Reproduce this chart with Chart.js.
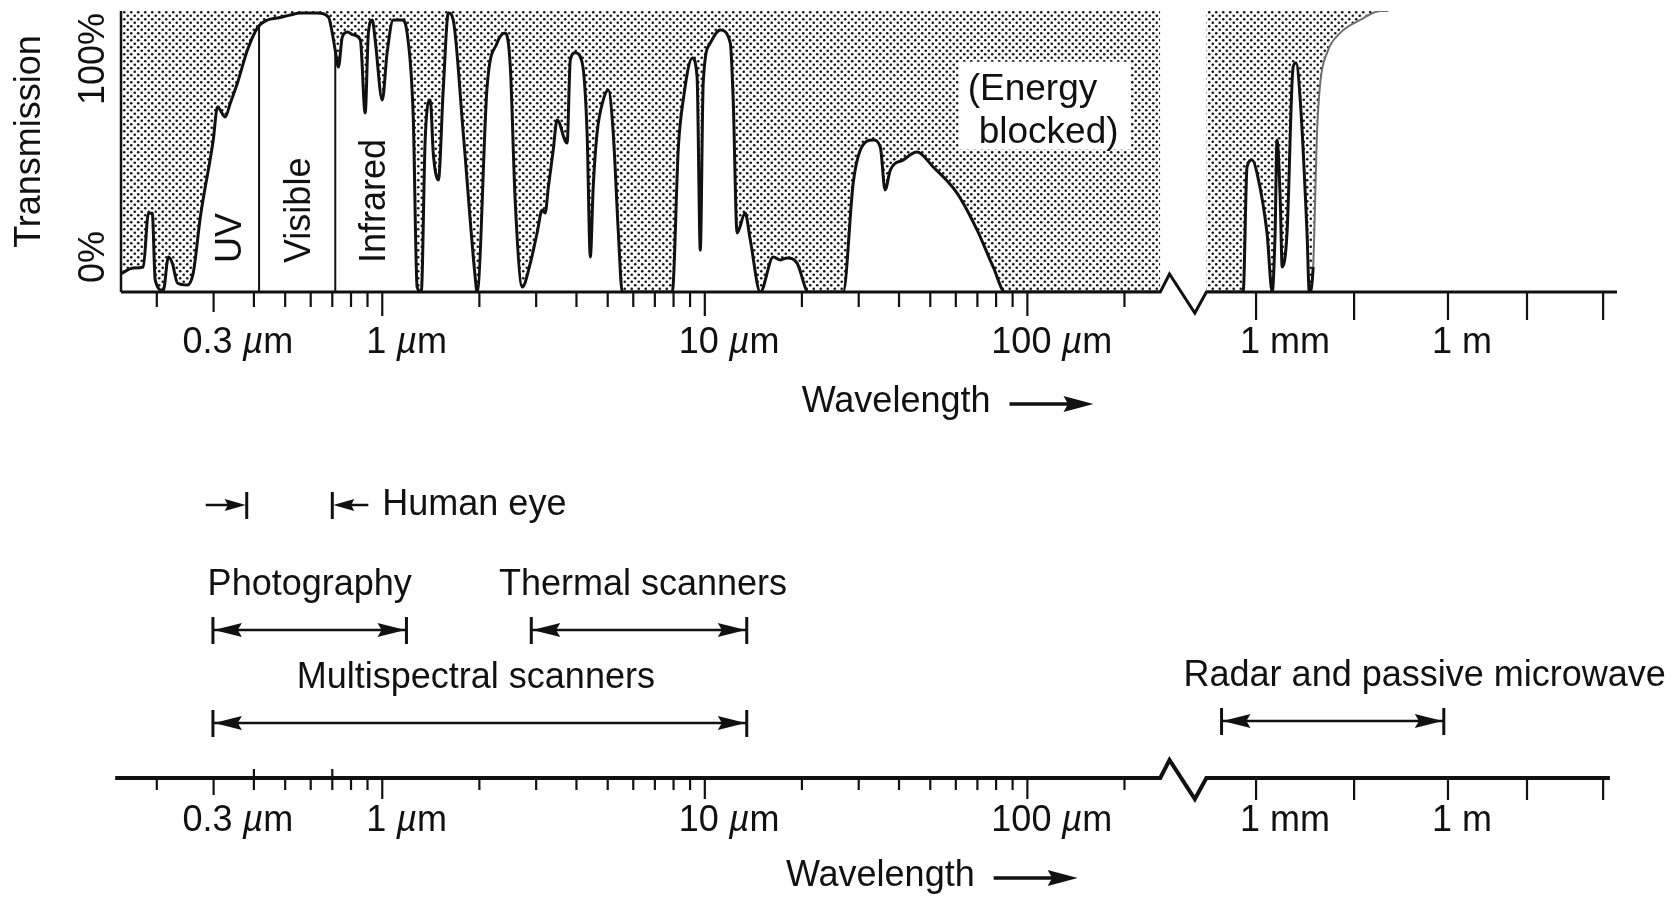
<!DOCTYPE html>
<html>
<head>
<meta charset="utf-8">
<script src="https://cdn.jsdelivr.net/npm/chart.js@4.4.1/dist/chart.umd.min.js"></script>
<style>
  html, body { margin: 0; padding: 0; background: #fff; }
  #wrap { position: relative; width: 1680px; height: 898px; overflow: hidden; }
  canvas { position: absolute; left: 0; }
  #top { top: 0; }
  #bottom { top: 440px; }
</style>
</head>
<body>
<div id="wrap">
  <canvas id="top" width="1680" height="440"></canvas>
  <canvas id="bottom" width="1680" height="458"></canvas>
</div>
<script>
// x values are decades: log10(wavelength / µm). Past the axis break the
// figure compresses the scale, so 1 mm and 1 m sit close together.
const xMin = -0.81, xMax = 3.828
const breakFrom = 2.412, breakTo = 2.555

// atmospheric transmission (%) left of the break
const windowPos = [
  -0.810, -0.772, -0.741, -0.725, -0.713, -0.704, -0.679, -0.663, -0.651, -0.635,
  -0.604, -0.586, -0.564, -0.524, -0.511, -0.487, -0.471, -0.449, -0.418, -0.387,
  -0.356, -0.325, -0.285, -0.254, -0.201, -0.167, -0.155, -0.146, -0.136, -0.124,
  -0.108, -0.090, -0.068, -0.053, -0.043, -0.031, -0.022, 0.000, 0.015, 0.034,
  0.062, 0.077, 0.096, 0.108, 0.121, 0.133, 0.149, 0.158, 0.174, 0.189,
  0.205, 0.220, 0.251, 0.288, 0.294, 0.325, 0.356, 0.381, 0.397, 0.412,
  0.434, 0.459, 0.480, 0.496, 0.505, 0.515, 0.530, 0.542, 0.573, 0.583,
  0.598, 0.620, 0.635, 0.645, 0.654, 0.666, 0.685, 0.701, 0.716, 0.732,
  0.744, 0.899, 0.918, 0.933, 0.961, 0.976, 0.986, 0.995, 1.017, 1.048,
  1.079, 1.088, 1.100, 1.125, 1.141, 1.172, 1.212, 1.234, 1.255, 1.286,
  1.321, 1.429, 1.460, 1.482, 1.522, 1.544, 1.559, 1.575, 1.615, 1.658,
  1.708, 1.782, 1.844, 1.894, 1.931, 2.412
]
const windowT = [
  6.5, 8.5, 8.9, 28, 28, 4.3, 0.5, 12.5, 10.3, 3.2,
  2.5, 6.8, 26.7, 54.1, 65.8, 62.3, 67.3, 74.4, 86.1, 94,
  96.8, 97.5, 98.6, 99.3, 99.3, 97.9, 92.2, 86.1, 80.1, 90.7,
  92.5, 91.5, 89.7, 63.7, 92.2, 96.8, 89.7, 68.3, 85.1, 96.8,
  96.8, 92.2, 62.3, 1.8, 0, 54.1, 68.3, 49.5, 39.9, 71.9,
  99.3, 96.8, 56.6, 5.3, 0, 73, 88.6, 92.2, 80.1, 32.7,
  1.8, 10.3, 21, 29.2, 28.1, 37.4, 50.5, 61.2, 53, 82.6,
  85.1, 81.5, 56.6, 12.5, 37.4, 56.6, 68.3, 71.9, 56.6, 21,
  0, 0, 51.6, 68.3, 83.3, 76.5, 14.9, 74.4, 88.6, 93.2,
  88.6, 68.3, 21, 28.1, 18.5, 0, 12.5, 11.4, 12.1, 10.3,
  0, 0, 38.8, 50.5, 54.1, 51.6, 36.3, 43.4, 47, 49.8,
  44.5, 35.2, 22.1, 8.9, 0, 0
]

// transmission right of the break (millimetre waves)
const mmPos = [
  2.555, 2.669, 2.681, 2.697, 2.712, 2.743, 2.759, 2.768, 2.774, 2.784,
  2.790, 2.805, 2.824, 2.833, 2.846, 2.867, 2.874, 2.886, 2.898, 2.908,
  2.929, 2.970, 3.032, 3.094, 3.119
]
const mmT = [
  0, 0, 44.5, 47, 42.3, 21, 0, 21, 54.1, 32.7,
  8.9, 21, 80.1, 81.5, 68.3, 21, 0, 8.9, 56.6, 74.4,
  85.1, 92.2, 96.8, 100, 100
]

// axis ticks
const minorWaves = [0.2, 0.3, 0.4, 0.5, 0.6, 0.7, 0.8, 0.9, 2, 3, 4, 5, 6, 7, 8, 9,
  20, 30, 40, 50, 60, 70, 80, 90, 200]              // µm
const decadeWaves = [1, 10, 100]                    // µm
const crossWaves = [0.4, 0.7]                       // ticks that also rise above the lower axis
const mmTickPos = [2.709, 3.013, 3.304, 3.549, 3.785]
const tickLabelPos = [-0.523, 0, 1, 2, 2.709, 3.304]
const tickLabelNum = ['0.3', '1', '10', '100', '1', '1']
const tickLabelUnit = ['µm', 'µm', 'µm', 'µm', 'mm', 'm']

// spectral bands in the top panel
const bandEdgeWaves = [0.415, 0.715]                // µm
const bandNames = ['UV', 'Visible', 'Infrared']
const bandNameWaves = [0.34, 0.557, 0.95]           // µm

// sensor ranges in the lower panel
const rangeNames = ['Photography', 'Thermal scanners', 'Multispectral scanners', 'Radar and passive microwave']
const rangeFrom = [-0.525, 0.462, -0.525, 2.602]
const rangeTo = [0.075, 1.130, 1.130, 3.291]
const rangeRow = [2.96, 2.96, 1.1, 1.14]
const eyeFrom = Math.log10(0.38), eyeTo = Math.log10(0.7), eyeRow = 5.46

const FONT = '"Liberation Sans", Arial, sans-serif'
const INK = '#111'
const rangeLabelDx = [0, 4, -4, 92]

const toPts = (xs, ys) => xs.map((x, i) => ({ x, y: ys[i] }))

function stipple(ctx) {
  const c = document.createElement('canvas')
  c.width = 7; c.height = 7
  const g = c.getContext('2d')
  g.fillStyle = '#141414'
  for (const [x, y] of [[1.75, 1.75], [5.25, 5.25]]) {
    g.beginPath(); g.arc(x, y, 1.3, 0, Math.PI * 2); g.fill()
  }
  return ctx.createPattern(c, 'repeat')
}

function curveAt(p) {
  for (let i = 1; i < windowPos.length; i++) {
    if (windowPos[i] >= p) {
      const t = (p - windowPos[i - 1]) / (windowPos[i] - windowPos[i - 1])
      return windowT[i - 1] + t * (windowT[i] - windowT[i - 1])
    }
  }
  return 0
}

function seg(ctx, x1, y1, x2, y2, w) {
  ctx.lineWidth = w
  ctx.beginPath(); ctx.moveTo(x1, y1); ctx.lineTo(x2, y2); ctx.stroke()
}

function head(ctx, tipX, y, dir, len, half) {
  ctx.beginPath()
  ctx.moveTo(tipX, y)
  ctx.lineTo(tipX - dir * len, y - half)
  ctx.lineTo(tipX - dir * len * 0.85, y)
  ctx.lineTo(tipX - dir * len, y + half)
  ctx.closePath(); ctx.fill()
}

// number upright, µ in italics, like the printed figure
function unitLabel(ctx, x, y, num, unit) {
  ctx.font = `36px ${FONT}`
  ctx.textAlign = 'left'; ctx.textBaseline = 'middle'
  const numW = ctx.measureText(num).width
  let cur = x - numW / 2 - 6
  ctx.fillText(num, cur, y)
  cur += numW + ctx.measureText(' ').width
  if (unit[0] === 'µ') {
    ctx.font = `italic 36px ${FONT}`
    ctx.fillText('µ', cur, y)
    cur += ctx.measureText('µ').width
    ctx.font = `36px ${FONT}`
    ctx.fillText(unit.slice(1), cur, y)
  } else {
    ctx.fillText(unit, cur, y)
  }
}

function waveAxis(ctx, x, yA, st) {
  const px = v => x.getPixelForValue(v)
  const b0 = px(breakFrom), b1 = px(breakTo), bw = b1 - b0
  ctx.strokeStyle = INK; ctx.fillStyle = INK
  ctx.lineJoin = 'miter'; ctx.lineCap = 'butt'
  ctx.lineWidth = st.lineWidth
  ctx.beginPath()
  ctx.moveTo(px(st.startPos), yA)
  ctx.lineTo(b0, yA)
  ctx.lineTo(b0 + bw * 0.2, yA - 18)
  ctx.lineTo(b0 + bw * 0.75, yA + 21)
  ctx.lineTo(b1, yA)
  ctx.lineTo(px(st.endPos), yA)
  ctx.stroke()

  const tick = (v, len, up) => seg(ctx, px(v), yA - (up || 0), px(v), yA + len, 2.2)
  minorWaves.forEach(w => tick(Math.log10(w), w === 0.3 ? st.midLen : st.minorLen,
    st.cross && crossWaves.includes(w) ? 9 : 0))
  decadeWaves.forEach(w => tick(Math.log10(w), st.majorLen))
  mmTickPos.forEach(p => tick(p, st.mmLen))

  tickLabelPos.forEach((p, i) => unitLabel(ctx, px(p), yA + st.labelDy, tickLabelNum[i], tickLabelUnit[i]))

  ctx.font = `36px ${FONT}`
  ctx.textAlign = 'center'; ctx.textBaseline = 'middle'
  const tx = px(st.titlePos), ty = yA + st.titleDy
  ctx.fillText('Wavelength', tx, ty)
  const ax = tx + ctx.measureText('Wavelength').width / 2 + 19
  seg(ctx, ax, ty + 2, ax + 66, ty + 2, 3.5)
  head(ctx, ax + 84, ty + 2, 1, 30, 8)
}

const topDecor = {
  id: 'topDecor',
  afterDatasetsDraw(chart) {
    const { ctx, chartArea: a, scales: { x, y } } = chart
    const y0 = y.getPixelForValue(0)
    ctx.save()
    ctx.strokeStyle = INK; ctx.fillStyle = INK
    seg(ctx, a.left, y0, a.left, y.getPixelForValue(100), 2.5)

    bandEdgeWaves.forEach(w => {
      const p = Math.log10(w), xp = x.getPixelForValue(p)
      seg(ctx, xp, y0, xp, y.getPixelForValue(curveAt(p)), 2)
    })

    ctx.font = `36px ${FONT}`
    ctx.textBaseline = 'middle'
    bandNames.forEach((n, i) => {
      ctx.save()
      ctx.translate(x.getPixelForValue(Math.log10(bandNameWaves[i])), y0 - 29)
      ctx.rotate(-Math.PI / 2)
      ctx.textAlign = 'left'
      ctx.fillText(n, 0, 0)
      ctx.restore()
    })

    // "(Energy blocked)" note on a white patch
    const nx = x.getPixelForValue(1.815), ny = y.getPixelForValue(72)
    ctx.fillStyle = '#fff'
    ctx.fillRect(nx - 9, ny - 28, 172, 88)
    ctx.fillStyle = INK
    ctx.textAlign = 'left'
    ctx.font = `37px ${FONT}`
    ctx.fillText('(Energy', nx, ny)
    ctx.fillText('blocked)', nx + 11, ny + 43)
    ctx.font = `36px ${FONT}`

    // y-axis words, rotated
    const rot = (txt, cx, cy, align) => {
      ctx.save(); ctx.translate(cx, cy); ctx.rotate(-Math.PI / 2)
      ctx.textAlign = align; ctx.fillText(txt, 0, 0); ctx.restore()
    }
    rot('Transmission', a.left - 91, (a.top + y0) / 2 - 10, 'center')
    rot('100%', a.left - 27, a.top + 2, 'right')
    rot('0%', a.left - 27, y0 - 9, 'left')

    waveAxis(ctx, x, y0, {
      lineWidth: 3, startPos: xMin, endPos: xMax,
      minorLen: 15, midLen: 20, majorLen: 24, mmLen: 28, cross: false,
      labelDy: 51, titleDy: 110, titlePos: 1.593
    })
    ctx.restore()
  }
}

const bottomDecor = {
  id: 'bottomDecor',
  afterDatasetsDraw(chart) {
    const { ctx, scales: { x, y } } = chart
    const px = v => x.getPixelForValue(v)
    ctx.save()
    ctx.strokeStyle = INK; ctx.fillStyle = INK
    ctx.lineCap = 'butt'

    rangeNames.forEach((name, i) => {
      const xl = px(rangeFrom[i]), xr = px(rangeTo[i]), yr = y.getPixelForValue(rangeRow[i])
      seg(ctx, xl, yr - 13, xl, yr + 14, 3)
      seg(ctx, xr, yr - 13, xr, yr + 14, 3)
      head(ctx, xl + 1, yr, -1, 28, 7)
      head(ctx, xr - 1, yr, 1, 28, 7)
      ctx.font = `36px ${FONT}`
      ctx.textAlign = 'center'; ctx.textBaseline = 'middle'
      ctx.fillText(name, (xl + xr) / 2 + rangeLabelDx[i], yr - 45)
    })

    // human eye: arrows point in from outside the band
    const ye = y.getPixelForValue(eyeRow)
    const el = px(eyeFrom), er = px(eyeTo)
    seg(ctx, el, ye - 13, el, ye + 14, 3)
    seg(ctx, el - 41, ye, el - 12, ye, 2.5)
    head(ctx, el - 1, ye, 1, 21, 6)
    seg(ctx, er, ye - 13, er, ye + 14, 3)
    seg(ctx, er + 12, ye, er + 36, ye, 2.5)
    head(ctx, er + 1, ye, -1, 21, 6)
    ctx.font = `36px ${FONT}`
    ctx.textAlign = 'left'; ctx.textBaseline = 'middle'
    ctx.fillText('Human eye', er + 50, ye)

    waveAxis(ctx, x, y.getPixelForValue(0), {
      lineWidth: 4, startPos: -0.828, endPos: 3.806,
      minorLen: 12, midLen: 17, majorLen: 21, mmLen: 22, cross: true,
      labelDy: 43, titleDy: 98, titlePos: 1.544
    })
    ctx.restore()
  }
}

const topCanvas = document.getElementById('top')
const dots = stipple(topCanvas.getContext('2d'))

const common = {
  responsive: false,
  animation: false,
  events: [],
  plugins: { legend: { display: false }, tooltip: { enabled: false } },
  elements: { point: { radius: 0 }, line: { tension: 0 } }
}

new Chart(topCanvas, {
  type: 'line',
  data: {
    datasets: [
      { data: toPts(windowPos, windowT), borderColor: INK, borderWidth: 3, borderJoinStyle: 'round',
        cubicInterpolationMode: 'monotone', backgroundColor: dots, fill: { value: 100 } },
      { data: toPts(mmPos, mmT), borderColor: INK, borderWidth: 3, borderJoinStyle: 'round',
        cubicInterpolationMode: 'monotone', backgroundColor: dots, fill: { value: 100 },
        segment: {
          borderColor: c => c.p0.parsed.x >= 2.886 ? '#6f6f6f' : INK,
          borderWidth: c => c.p0.parsed.x >= 2.886 ? 2 : 3
        } }
    ]
  },
  options: {
    ...common,
    layout: { padding: { left: 121, right: 63, top: 11, bottom: 148 } },
    scales: {
      x: { type: 'linear', min: xMin, max: xMax, display: false },
      y: { min: 0, max: 100, display: false }
    }
  },
  plugins: [topDecor]
})

new Chart(document.getElementById('bottom'), {
  type: 'line',
  data: {
    datasets: rangeNames.map((n, i) => ({
      label: n,
      data: [{ x: rangeFrom[i], y: rangeRow[i] }, { x: rangeTo[i], y: rangeRow[i] }],
      borderColor: INK, borderWidth: 2.5, fill: false
    }))
  },
  options: {
    ...common,
    layout: { padding: { left: 121, right: 63, top: 33, bottom: 120 } },
    scales: {
      x: { type: 'linear', min: xMin, max: xMax, display: false },
      y: { min: 0, max: 6.1, display: false }
    }
  },
  plugins: [bottomDecor]
})
</script>
</body>
</html>
